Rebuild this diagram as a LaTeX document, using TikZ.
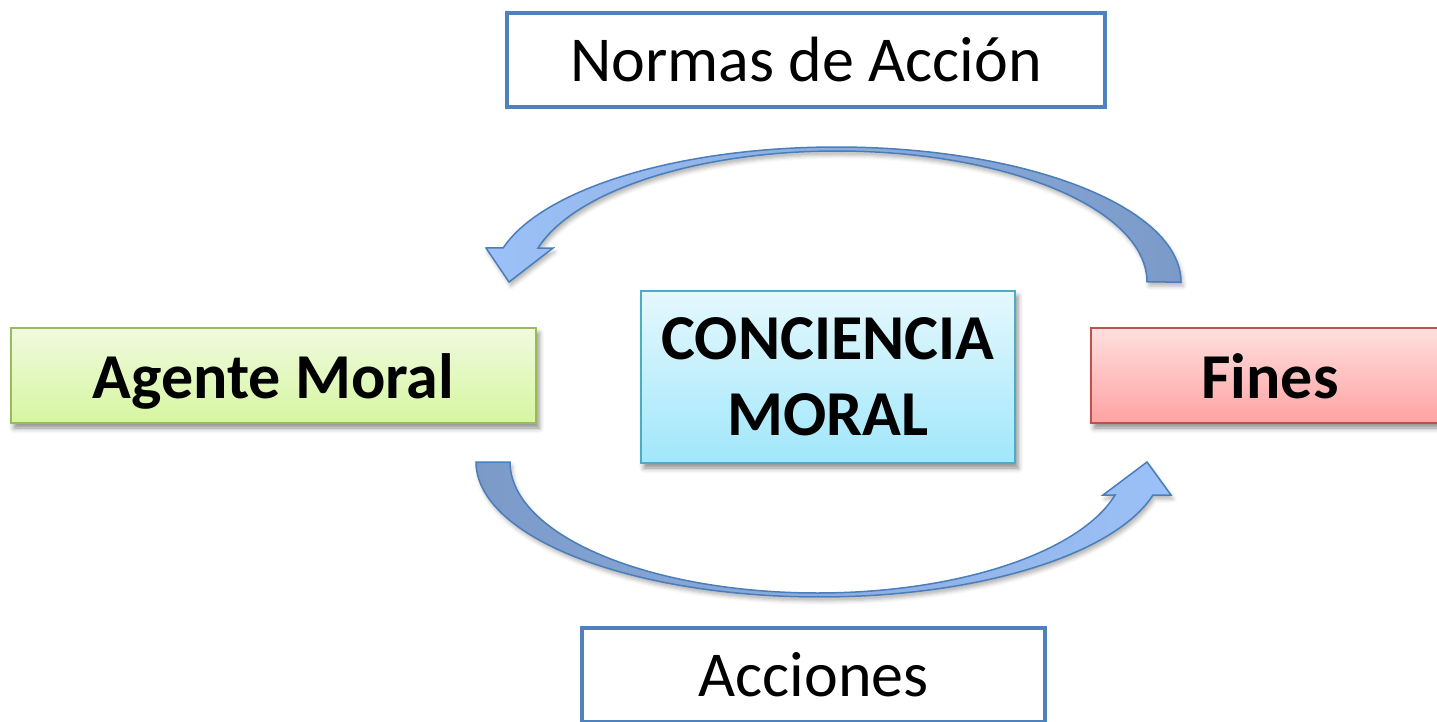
\documentclass[tikz,border=0pt]{standalone}
\usepackage{fontspec}
\setmainfont{Carlito}
\usepackage{tikz}
\usetikzlibrary{shadows.blur}

\definecolor{boxblue}{HTML}{4F81BD}
\definecolor{agentline}{HTML}{9BBB59}
\definecolor{agenttop}{HTML}{F0FADF}
\definecolor{agentbot}{HTML}{D6F6A0}
\definecolor{concline}{HTML}{4BACC6}
\definecolor{conctop}{HTML}{E5F8FD}
\definecolor{concbot}{HTML}{A0E7FB}
\definecolor{finesline}{HTML}{C0504D}
\definecolor{finestop}{HTML}{FFDFDF}
\definecolor{finesbot}{HTML}{FFA2A2}
\definecolor{arrowline}{HTML}{4A7EBB}
\definecolor{arrowlight}{HTML}{9CC1F8}
\definecolor{arrowdark}{HTML}{3F70B8}
\definecolor{arrowgray}{HTML}{7B9AC8}

\begin{document}
\begin{tikzpicture}[x=1pt,y=-1pt,
  labelbox/.style={draw=boxblue, line width=4pt, fill=white, inner sep=0pt,
    font=\fontsize{64}{76}\selectfont},
  colorbox/.style={line width=2pt, inner sep=0pt, align=center,
    font=\fontsize{64}{76}\selectfont\bfseries,
    blur shadow={shadow xshift=3pt, shadow yshift=-5pt, shadow blur radius=5pt, shadow opacity=45}},
  oneline/.style={text height=48pt, text depth=3pt},
  bigarrow/.style={draw=arrowline, line width=1.5pt,
    blur shadow={shadow xshift=2pt, shadow yshift=-4pt, shadow blur radius=4pt, shadow opacity=30}}]
\useasboundingbox (0,0) rectangle (1437,722);
\clip (0,0) rectangle (1437,722);

% boxes
\node[labelbox, minimum width=598pt, minimum height=94pt] (normas) at (806,60) {Normas de Acción};
\node[labelbox, minimum width=463pt, minimum height=94pt] (acciones) at (813.5,675) {Acciones};
\node[colorbox, oneline, draw=agentline, top color=agenttop, bottom color=agentbot,
  minimum width=525pt, minimum height=95pt] (agente) at (273.5,375.5) {Agente Moral};
\node[colorbox, draw=concline, top color=conctop, bottom color=concbot,
  minimum width=374pt, minimum height=172pt] (conciencia) at (828,377) {CONCIENCIA\\MORAL};
\node[colorbox, oneline, draw=finesline, top color=finestop, bottom color=finesbot,
  minimum width=358pt, minimum height=95pt] (fines) at (1270,375.5) {Fines};

% curved arrow: Fines -> Agente Moral
\coordinate (toptip) at (509,282);
\shade[bigarrow, left color=arrowlight, middle color=arrowdark, right color=arrowgray]
  plot[domain=0:165.4, samples=80, smooth] ({836.5+344.5*cos(\x)}, {282-135*sin(\x)})
  -- (486,248) -- (toptip) -- (553,248)
  -- plot[domain=164.96:0, samples=80, smooth] ({837.2+309.8*cos(\x)}, {282-131*sin(\x)})
  -- cycle;

% curved arrow: Agente Moral -> Fines
\coordinate (bottip) at (1147,462);
\shade[bigarrow, left color=arrowgray, middle color=arrowdark, right color=arrowlight]
  plot[domain=180:345.85, samples=80, smooth] ({819.7+343.7*cos(\x)}, {462-135*sin(\x)})
  -- (1171,495) -- (bottip) -- (1103,495)
  -- plot[domain=345.41:180, samples=80, smooth] ({817.5+307.5*cos(\x)}, {462-131*sin(\x)})
  -- cycle;

\end{tikzpicture}
\end{document}
